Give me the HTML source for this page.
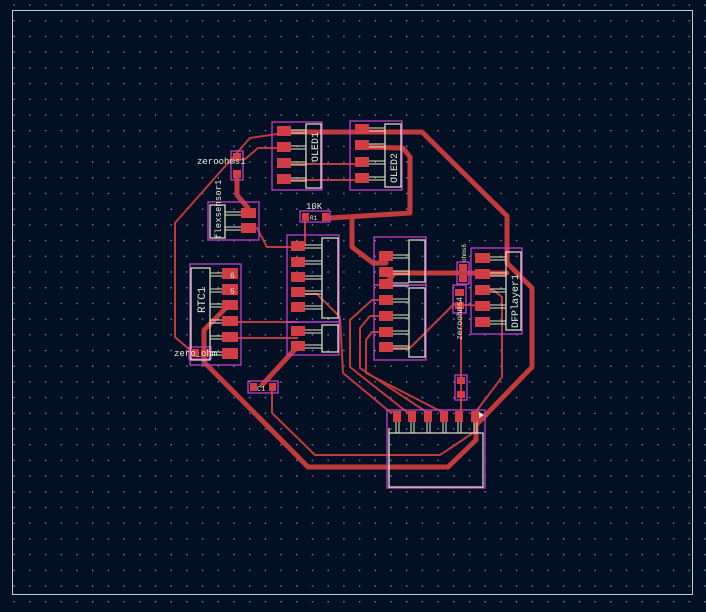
<!DOCTYPE html>
<html><head><meta charset="utf-8"><style>
html,body{margin:0;padding:0;background:#001023;}
svg{display:block}
text{font-family:"Liberation Mono","DejaVu Sans Mono",monospace;fill:#e8e6c8}
</style></head><body>
<svg width="706" height="612" viewBox="0 0 706 612" xmlns="http://www.w3.org/2000/svg">
<defs>
<pattern id="g" width="15.7" height="15.7" patternUnits="userSpaceOnUse" x="13.5" y="4.4">
<rect x="0" y="0" width="1.4" height="1.4" fill="#7888a0"/>
</pattern>
</defs>
<rect width="706" height="612" fill="#031024"/>
<rect width="706" height="612" fill="url(#g)"/>
<rect x="12.5" y="10.5" width="680" height="584" fill="none" stroke="#c8c8c8" stroke-width="1"/>

<!-- thin traces -->
<g fill="none" stroke="#c0393b" stroke-width="2" stroke-linejoin="round">
<polyline points="284,133 250,138 175,223 175,337 190,350"/>
<polyline points="284,148 258,148 244,160"/>
<polyline points="284,164 362,164"/>
<polyline points="284,180 362,180"/>
<polyline points="248,228 257,228 267,247 298,247"/>
<polyline points="305,220 305,246"/>
<polyline points="229,322 298,322"/>
<polyline points="229,338 298,338"/>
<polyline points="300,294 317,294 340,317 343,373 390,412 397,412"/>
<polyline points="386,300 372,300 350,320 350,367 408,413 412,413"/>
<polyline points="386,316 370,316 360,328 360,368 428,413"/>
<polyline points="386,332 372,332 366,340 366,373 444,413"/>
<polyline points="386,348 410,348 453,305 470,305 482,306"/>
<polyline points="482,290 493,290 502,297 502,377 475,413"/>
<polyline points="461,300 461,413"/>
<polyline points="272,390 272,413 315,455 440,455 473,433"/>
</g>

<!-- thick traces -->
<g fill="none" stroke="#c0393b" stroke-width="5" stroke-linejoin="round" stroke-linecap="round">
<polyline points="284,132 422,132 507,216 507,263 532,288 532,367 476,425 476,440 448,467 308,467 204,362 204,330 228,306"/>
<polyline points="362,147 403,148 410,157 410,213 330,218"/>
<polyline points="352,218 352,247 373,263 386,263"/>
<polyline points="237,178 237,195 248,208"/>
<polyline points="387,282 395,273 507,273"/>
<polyline points="298,346 262,385"/>
</g>

<!-- magenta courtyards -->
<g fill="none" stroke="#c23fc6" stroke-width="1.3">
<rect x="272" y="122" width="50" height="68"/>
<rect x="350" y="121" width="52" height="69"/>
<rect x="231" y="151" width="12" height="29"/>
<rect x="208" y="202" width="51" height="38"/>
<rect x="300" y="211" width="30" height="11"/>
<rect x="287" y="235" width="52" height="87"/>
<rect x="287" y="322" width="52" height="33"/>
<rect x="374" y="237" width="52" height="48"/>
<rect x="374" y="285" width="52" height="75"/>
<rect x="190" y="264" width="51" height="101"/>
<rect x="189" y="347" width="22" height="12"/>
<rect x="248" y="381" width="30" height="12"/>
<rect x="471" y="248" width="51" height="86"/>
<rect x="457" y="262" width="12" height="22"/>
<rect x="453" y="285" width="13" height="28"/>
<rect x="455" y="375" width="12" height="25"/>
<rect x="387" y="410" width="98" height="78"/>
</g>

<!-- silkscreen -->
<g fill="none" stroke="#e8e6c8" stroke-width="1.2">
<rect x="306" y="124" width="15" height="64"/>
<rect x="385" y="124" width="16" height="63"/>
<rect x="210" y="205" width="15" height="33"/>
<rect x="322" y="238" width="16" height="80"/>
<rect x="322" y="325" width="16" height="27"/>
<rect x="409" y="240" width="16" height="42"/>
<rect x="409" y="288" width="16" height="69"/>
<rect x="191" y="268" width="19" height="92"/>
<rect x="506" y="252" width="15" height="78"/>
<rect x="389" y="433" width="94" height="54"/>
<line x1="389" y1="428" x2="389" y2="487"/>
</g>
<g stroke="#e8e6c8" stroke-width="1">
<path d="M290 130h16M290 133h16M290 146h16M290 149h16M290 162h16M290 165h16M290 178h16M290 181h16"/>
<path d="M368 128h17M368 131h17M368 144h17M368 147h17M368 161h17M368 164h17M368 177h17M368 180h17"/>
<path d="M225 212h17M225 215h17M225 227h17M225 230h17"/>
<path d="M304 245h18M304 248h18M304 261h18M304 264h18M304 276h18M304 279h18M304 291h18M304 294h18M304 306h18M304 309h18M304 330h18M304 333h18M304 345h18M304 348h18"/>
<path d="M392 255h17M392 258h17M392 271h17M392 274h17M392 283h17M392 286h17M392 299h17M392 302h17M392 315h17M392 318h17M392 331h17M392 334h17M392 346h17M392 349h17"/>
<path d="M210 273h14M210 276h14M210 289h14M210 292h14M210 304h14M210 307h14M210 320h14M210 323h14M210 336h14M210 339h14M210 352h14M210 355h14"/>
<path d="M488 257h18M488 260h18M488 273h18M488 276h18M488 289h18M488 292h18M488 305h18M488 308h18M488 321h18M488 324h18"/>
<path d="M396 422v11M399 422v11M411 422v11M414 422v11M427 422v11M430 422v11M443 422v11M446 422v11M458 422v11M461 422v11M474 422v11M477 422v11"/>
</g>
<polygon points="478,411 484,415 478,419" fill="#e8e6c8"/>

<!-- pads -->
<g fill="#d23c42">
<rect x="277" y="126" width="14" height="10"/><rect x="277" y="142" width="14" height="10"/><rect x="277" y="158" width="14" height="10"/><rect x="277" y="174" width="14" height="10"/>
<rect x="355" y="124" width="14" height="10"/><rect x="355" y="140" width="14" height="10"/><rect x="355" y="157" width="14" height="10"/><rect x="355" y="173" width="14" height="10"/>
<rect x="233" y="153" width="8" height="8"/><rect x="233" y="170" width="8" height="8"/>
<rect x="241" y="208" width="15" height="10"/><rect x="241" y="223" width="15" height="10"/>
<rect x="302" y="213" width="7" height="8"/><rect x="322" y="213" width="7" height="8"/>
<rect x="291" y="241" width="14" height="10"/><rect x="291" y="257" width="14" height="10"/><rect x="291" y="272" width="14" height="10"/><rect x="291" y="287" width="14" height="10"/><rect x="291" y="302" width="14" height="10"/>
<rect x="291" y="326" width="14" height="10"/><rect x="291" y="341" width="14" height="10"/>
<rect x="379" y="251" width="14" height="10"/><rect x="379" y="267" width="14" height="10"/>
<rect x="379" y="279" width="14" height="10"/><rect x="379" y="295" width="14" height="10"/><rect x="379" y="311" width="14" height="10"/><rect x="379" y="327" width="14" height="10"/><rect x="379" y="342" width="14" height="10"/>
<rect x="222" y="268" width="16" height="11"/><rect x="222" y="284" width="16" height="11"/><rect x="222" y="300" width="16" height="10"/><rect x="222" y="316" width="16" height="10"/><rect x="222" y="332" width="16" height="10"/><rect x="222" y="348" width="16" height="11"/>
<rect x="191" y="349" width="8" height="8"/><rect x="201" y="349" width="8" height="8"/>
<rect x="250" y="383" width="7" height="8"/><rect x="269" y="383" width="7" height="8"/>
<rect x="475" y="253" width="15" height="10"/><rect x="475" y="269" width="15" height="10"/><rect x="475" y="285" width="15" height="10"/><rect x="475" y="301" width="15" height="10"/><rect x="475" y="317" width="15" height="10"/>
<rect x="459" y="264" width="8" height="7"/><rect x="459" y="275" width="8" height="7"/>
<rect x="455" y="289" width="9" height="7"/><rect x="455" y="302" width="9" height="7"/>
<rect x="457" y="377" width="8" height="7"/><rect x="457" y="391" width="8" height="7"/>
<rect x="393" y="411" width="8" height="11"/><rect x="408" y="411" width="8" height="11"/><rect x="424" y="411" width="8" height="11"/><rect x="440" y="411" width="8" height="11"/><rect x="455" y="411" width="8" height="11"/><rect x="471" y="411" width="8" height="11"/>
</g>

<!-- labels -->
<text x="197" y="164" font-size="9">zeroohms1</text>
<text x="306" y="209" font-size="9">10K</text>
<text x="310" y="220" font-size="6">R1</text>
<text x="174" y="356" font-size="9">zero_ohm</text>
<text x="230" y="278" font-size="8">6</text>
<text x="230" y="294" font-size="8">5</text>
<text transform="translate(318,162) rotate(-90)" font-size="10">OLED1</text>
<text transform="translate(397,183) rotate(-90)" font-size="10">OLED2</text>
<text transform="translate(221,239) rotate(-90)" font-size="9">flexsensor1</text>
<text transform="translate(205,313) rotate(-90)" font-size="11">RTC1</text>
<text transform="translate(518,328) rotate(-90)" font-size="10">DFPlayer1</text>
<text transform="translate(462,340) rotate(-90)" font-size="8">zeroohms4</text>
<text transform="translate(466,262) rotate(-90)" font-size="6">ohms6</text>
<text x="257" y="391" font-size="7">C1</text>
</svg>
</body></html>
